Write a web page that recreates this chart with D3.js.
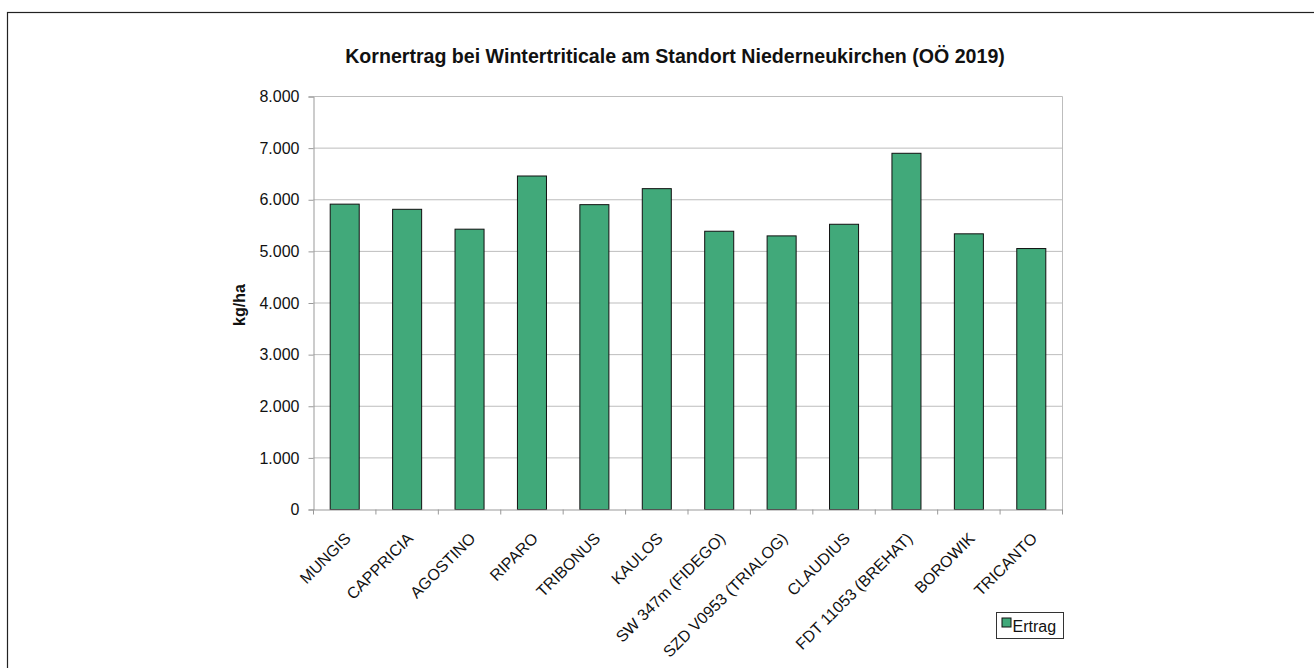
<!DOCTYPE html>
<html>
<head>
<meta charset="utf-8">
<script src="https://cdn.jsdelivr.net/npm/d3@7"></script>
<style>
  body { margin: 0; background: #fff; }
  svg { display: block; font-family: "Liberation Sans", Arial, sans-serif; }
</style>
</head>
<body>
<svg id="chart" width="1314" height="668"></svg>
<script>
// Sorten und Ertrag (kg/ha)
const sorten = ['MUNGIS', 'CAPPRICIA', 'AGOSTINO', 'RIPARO', 'TRIBONUS', 'KAULOS',
  'SW 347m (FIDEGO)', 'SZD V0953 (TRIALOG)', 'CLAUDIUS', 'FDT 11053 (BREHAT)', 'BOROWIK', 'TRICANTO']
const ertrag = [5915, 5815, 5430, 6460, 5905, 6215, 5390, 5300, 5525, 6900, 5340, 5055]
const yTicks = [0, 1000, 2000, 3000, 4000, 5000, 6000, 7000, 8000]
const serieName = 'Ertrag'

const svg = d3.select('#chart')
const plot = { left: 313.5, right: 1062.5, top: 96.5, bottom: 509.5 }

// Rahmen (nur links/oben sichtbar)
svg.append('rect')
  .attr('x', 7.5).attr('y', 12.5)
  .attr('width', 1400).attr('height', 800)
  .attr('fill', 'none').attr('stroke', '#222').attr('stroke-width', 1.2)

const x = d3.scaleBand().domain(sorten).range([plot.left, plot.right]).paddingInner(0).paddingOuter(0)
const y = d3.scaleLinear().domain([0, 8000]).range([plot.bottom, plot.top])
const fmt = d => d3.format(',')(d).replace(/,/g, '.')

// Gitternetz
svg.append('g')
  .selectAll('line')
  .data(yTicks.slice(1))
  .join('line')
  .attr('x1', plot.left).attr('x2', plot.right)
  .attr('y1', d => y(d)).attr('y2', d => y(d))
  .attr('stroke', '#bdbdbd').attr('stroke-width', 1)

// rechter Rand der Zeichenfläche
svg.append('line')
  .attr('x1', plot.right).attr('x2', plot.right)
  .attr('y1', plot.top).attr('y2', plot.bottom)
  .attr('stroke', '#bdbdbd')

// Balken
const bw = x.bandwidth() * 0.465
svg.append('g')
  .selectAll('rect')
  .data(ertrag)
  .join('rect')
  .attr('x', (d, i) => x(sorten[i]) + (x.bandwidth() - bw) / 2)
  .attr('y', d => y(d))
  .attr('width', bw)
  .attr('height', d => plot.bottom - y(d))
  .attr('fill', '#41a97a')
  .attr('stroke', '#111').attr('stroke-width', 1)

// y-Achse
const yAxis = svg.append('g')
  .attr('transform', `translate(${plot.left},0)`)
  .call(d3.axisLeft(y).tickValues(yTicks).tickFormat(fmt).tickSize(5).tickPadding(9))
yAxis.select('.domain').attr('stroke', '#999')
yAxis.selectAll('.tick line').attr('stroke', '#999')
yAxis.selectAll('.tick text').attr('font-size', 16).attr('fill', '#111')
  .attr('font-family', '"Liberation Sans", Arial, sans-serif')

// x-Achse
const xAxis = svg.append('g')
  .attr('transform', `translate(0,${plot.bottom})`)
  .call(d3.axisBottom(x).tickSize(0).tickFormat(''))
xAxis.select('.domain').attr('stroke', '#999')
svg.append('g')
  .selectAll('line')
  .data(d3.range(sorten.length + 1))
  .join('line')
  .attr('x1', i => plot.left + i * x.step()).attr('x2', i => plot.left + i * x.step())
  .attr('y1', plot.bottom).attr('y2', plot.bottom + 5)
  .attr('stroke', '#999')

svg.append('g')
  .selectAll('text')
  .data(sorten)
  .join('text')
  .attr('transform', d => `translate(${x(d) + x.bandwidth() / 2 + 7},${plot.bottom + 30}) rotate(-45)`)
  .attr('text-anchor', 'end')
  .attr('font-size', 16)
  .attr('fill', '#111')
  .text(d => d)

// Titel
svg.append('text')
  .attr('x', 675).attr('y', 63)
  .attr('text-anchor', 'middle')
  .attr('font-size', 19.6).attr('font-weight', 'bold')
  .attr('fill', '#111')
  .text('Kornertrag bei Wintertriticale am Standort Niederneukirchen (OÖ 2019)')

// y-Beschriftung
svg.append('text')
  .attr('transform', 'translate(245,305) rotate(-90)')
  .attr('text-anchor', 'middle')
  .attr('font-size', 16).attr('font-weight', 'bold')
  .attr('fill', '#111')
  .text('kg/ha')

// Legende
const leg = svg.append('g').attr('transform', 'translate(996.5,612.5)')
leg.append('rect').attr('width', 67).attr('height', 26)
  .attr('fill', '#fff').attr('stroke', '#333')
leg.append('rect').attr('x', 5.5).attr('y', 5.5).attr('width', 9).attr('height', 9)
  .attr('fill', '#41a97a').attr('stroke', '#111')
leg.append('text').attr('x', 16).attr('y', 19)
  .attr('font-size', 16).attr('fill', '#111')
  .text(serieName)
</script>
</body>
</html>
